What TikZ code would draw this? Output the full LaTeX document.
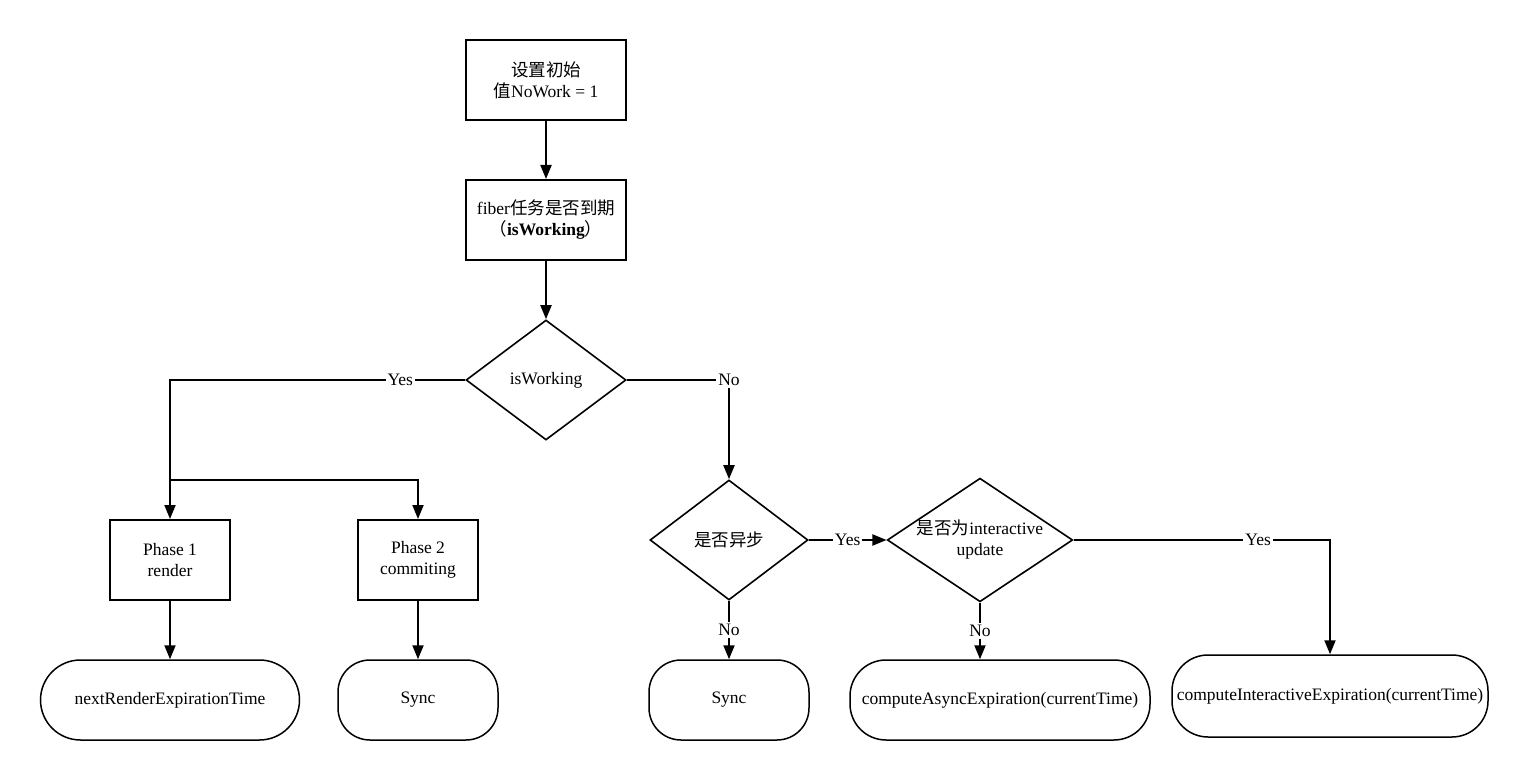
\documentclass[tikz,border=0pt]{standalone}
\usepackage{fontspec}
\setmainfont{Liberation Serif}
\newfontfamily\cjk{Noto Sans CJK SC}
\usetikzlibrary{arrows.meta, positioning, shapes.geometric}

\begin{document}
\begin{tikzpicture}[
  x = 0.5pt, y = -0.5pt,
  every node/.style = {font=\fontsize{8.75}{10.5}\selectfont},
  box/.style  = {rectangle, draw=black, line width=1pt, align=center,
                 inner sep=2pt, minimum width=80pt, minimum height=40pt},
  dec/.style  = {diamond, draw=black, line width=0.8pt, align=center,
                 inner sep=0pt, aspect=1.5, minimum width=80pt, minimum height=60pt},
  term/.style = {rectangle, rounded corners=16pt, draw=black, line width=0.75pt,
                 align=center, inner xsep=0pt, minimum width=80pt, minimum height=40pt},
  arr/.style  = {-{Triangle[length=7pt, width=5.5pt]}, line width=1pt},
  lab/.style  = {fill=white, inner sep=1pt}
]
\useasboundingbox (0,0) rectangle (1531,780);

% ---- main column ------------------------------------------------------
\node[box] (init)  at (546,80)  {{\cjk 设置初始}\\{\cjk 值}NoWork = 1};
\node[box] (fiber) at (546,220) {fiber{\cjk 任务是否到期}\\{\cjk （}\textbf{isWorking}{\cjk ）}};
\node[dec] (work)  at (546,380) {isWorking};

\draw[arr] (init)  -- (fiber);
\draw[arr] (fiber) -- (work);

% ---- working: two phases (left) ---------------------------------------
\node[box, minimum width=60pt] (phone) at (170,560) {Phase 1\\render};
\node[box, minimum width=60pt] (phtwo) at (418,560) {Phase 2\\commiting};
\node[term, minimum width=129.5pt, rounded corners=20pt] (nexttime) at (170,700) {nextRenderExpirationTime};
\node[term] (synca) at (418,700) {Sync};

\draw[arr] (work.west) -- node[lab, pos=0.22] {Yes} (work.west -| phone.north) -- (phone.north);
\coordinate (fork) at (phone.north |- 0,480);
\draw[arr] (fork) -| (phtwo.north);
\draw[arr] (phone) -- (nexttime);
\draw[arr] (phtwo) -- (synca);

% ---- not working: async / interactive (right) -------------------------
\node[dec, minimum width=79pt] (async) at (729,540) {{\cjk 是否异步}};
\node[dec, minimum width=90pt] (inter) at (980,540) {{\cjk 是否为}interactive\\update};
\node[term] (syncb) at (729,700) {Sync};
\node[term, minimum width=150pt, rounded corners=18pt] (asyncexp) at (1000,700) {computeAsyncExpiration(currentTime)};
\node[term, minimum width=158pt, minimum height=41pt, rounded corners=18pt] (interexp) at (1330,696) {computeInteractiveExpiration(currentTime)};

\draw[arr] (work.east) -| node[lab] {No} (async.north);
\draw[arr] (async.east) -- node[lab] {Yes} (inter.west);
\draw[arr] (async.south) -- node[lab] {No} (syncb.north);
\draw[arr] (inter.south) -- node[lab] {No} (inter.south |- asyncexp.north);
\draw[arr] (inter.east) -| node[lab, pos=0.36] {Yes} (interexp.north);

\end{tikzpicture}
\end{document}
